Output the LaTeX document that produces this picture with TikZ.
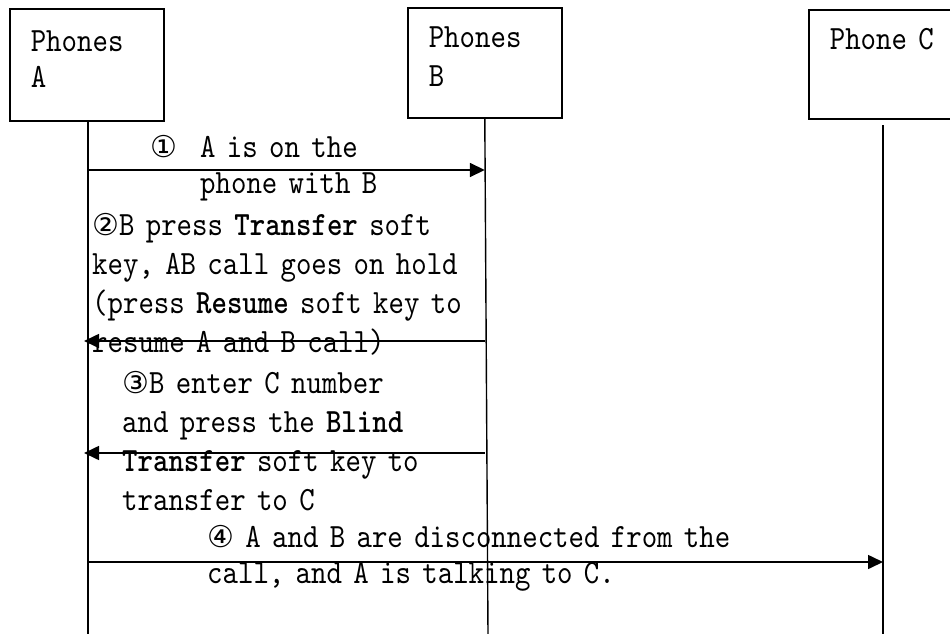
\documentclass[tikz,border=0pt]{standalone}
\usepackage{fontspec}
\setmonofont[FakeStretch=0.865, BoldFont=lmmonolt10-bold.otf]{lmmono10-regular.otf}
\newfontfamily\circfont{DejaVu Sans}
\usetikzlibrary{arrows.meta, positioning}

\begin{document}
\begin{tikzpicture}[
    x=1pt, y=-1pt,
    phone/.style={draw, line width=1.6pt, inner xsep=21pt, inner ysep=0pt,
                  anchor=north west, align=left},
    msg/.style={-{Triangle[length=15pt, width=14pt]}, line width=1.6pt},
    life/.style={line width=1.4pt},
    note/.style={anchor=base west, inner sep=0pt, align=left, text width=560pt}
]
\useasboundingbox (0,0) rectangle (950,634);

\node[phone, text width=112pt, text height=43pt, text depth=69pt,
      font=\ttfamily\fontsize{34}{36}\selectfont] (boxA) at (9,8) {Phones\\A};
\node[phone, text width=112pt, text height=40pt, text depth=70pt,
      font=\ttfamily\fontsize{34}{39}\selectfont] (boxB) at (407,7) {Phones\\B};
\node[phone, text width=108pt, text height=40pt, text depth=69pt,
      font=\ttfamily\fontsize{34}{39}\selectfont] (boxC) at (808,9) {Phone C};

\coordinate (endA) at (88,634);
\coordinate (endB) at (488,634);
\coordinate (endC) at (883,634);
\coordinate (topC) at (883,125);

\draw[life] (boxA.south -| endA) -- (endA);
\draw[life] (boxB.south) -- (endB);
\draw[life] (topC) -- (endC);

\path (0,170) coordinate (y1) (0,341) coordinate (y2)
      (0,453) coordinate (y3) (0,562) coordinate (y4);

\draw[msg] (endA |- y1) -- (boxB.south |- y1);
\draw[msg, shorten >=-4pt] (boxB.south |- y2) -- (endA |- y2);
\draw[msg, shorten >=-4pt] (boxB.south |- y3) -- (endA |- y3);
\draw[msg] (endA |- y4) -- (endC |- y4);

\node[note, font=\ttfamily\fontsize{34}{36}\selectfont] (n1) at (200,157)
    {\leavevmode\llap{{\circfont\fontsize{30}{36}\selectfont ①}\ \ }A is on the\\phone with B};
\node[note, font=\ttfamily\fontsize{34}{39}\selectfont] (n2) at (92,235)
    {{\circfont\fontsize{30}{39}\selectfont ②}B press \textbf{Transfer} soft\\key, AB call goes on hold\\
     (press \textbf{Resume} soft key to\\resume A and B call)};
\node[note, font=\ttfamily\fontsize{34}{39}\selectfont] (n3) at (122,393)
    {{\circfont\fontsize{30}{39}\selectfont ③}B enter C number\\and press the \textbf{Blind}\\
     \textbf{Transfer} soft key to\\transfer to C};
\node[note, font=\ttfamily\fontsize{34}{36}\selectfont] (n4) at (207,547)
    {{\circfont\fontsize{30}{36}\selectfont ④} A and B are disconnected from the\\call, and A is talking to C.};
\end{tikzpicture}
\end{document}
